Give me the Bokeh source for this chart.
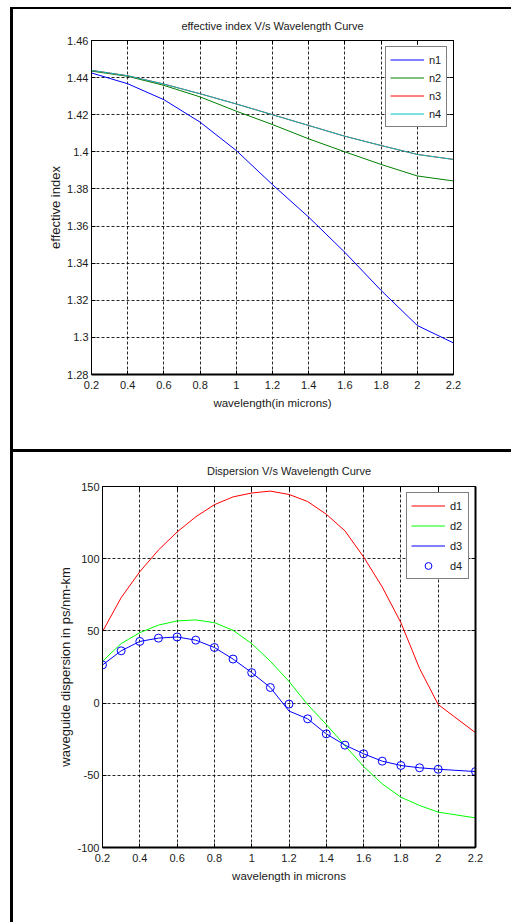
from bokeh.plotting import figure
from bokeh.models import Legend, LegendItem, FixedTicker, LinearAxis, Range1d
from bokeh.embed import file_html
from bokeh.resources import INLINE

FONT = "Liberation Sans"

# ---------------- data: effective index ----------------
wl1 = [0.2, 0.4, 0.6, 0.8, 1.0, 1.2, 1.4, 1.6, 1.8, 2.0, 2.2]
n1 = [1.4425, 1.4367, 1.4281, 1.4160, 1.4007, 1.3823, 1.3648, 1.3458, 1.3253, 1.3064, 1.2970]
n2 = [1.4435, 1.4407, 1.4358, 1.4296, 1.4219, 1.4147, 1.4070, 1.4000, 1.3932, 1.3870, 1.3843]
n3 = [1.4439, 1.4410, 1.4365, 1.4313, 1.4258, 1.4200, 1.4142, 1.4084, 1.4034, 1.3986, 1.3959]
n4 = [1.4439, 1.4410, 1.4365, 1.4313, 1.4258, 1.4200, 1.4142, 1.4084, 1.4034, 1.3986, 1.3959]

xticks = [0.2, 0.4, 0.6, 0.8, 1.0, 1.2, 1.4, 1.6, 1.8, 2.0, 2.2]
xtick_labels = ["0.2", "0.4", "0.6", "0.8", "1", "1.2", "1.4", "1.6", "1.8", "2", "2.2"]
yticks1 = [1.28, 1.30, 1.32, 1.34, 1.36, 1.38, 1.40, 1.42, 1.44, 1.46]
ytick_labels1 = ["1.28", "1.3", "1.32", "1.34", "1.36", "1.38", "1.4", "1.42", "1.44", "1.46"]

# ---------------- data: dispersion ----------------
wl2 = [0.2, 0.3, 0.4, 0.5, 0.6, 0.7, 0.8, 0.9, 1.0, 1.1, 1.2, 1.3, 1.4, 1.5, 1.6,
       1.7, 1.8, 1.9, 2.0, 2.2]
d1 = [49.5, 73.0, 91.0, 106.0, 118.5, 129.0, 137.4, 142.8, 145.5, 146.8, 144.5,
      139.6, 130.8, 119.3, 101.2, 80.4, 55.7, 24.0, -1.0, -20.5]
d2 = [29.0, 41.2, 48.8, 54.0, 56.9, 57.6, 55.7, 50.4, 41.2, 29.0, 15.0, -1.0,
      -14.8, -29.4, -43.9, -55.9, -65.2, -70.9, -75.5, -79.5]
d3 = [26.4, 36.2, 42.7, 45.0, 45.8, 43.6, 38.5, 30.5, 21.1, 10.8, -5.5, -10.9,
      -21.3, -29.1, -35.1, -40.2, -43.2, -44.8, -45.8, -47.4]
d4 = [26.4, 36.2, 42.7, 45.0, 45.8, 43.6, 38.5, 30.5, 21.1, 10.8, -0.7, -10.9,
      -21.3, -29.1, -35.1, -40.2, -43.2, -44.8, -45.8, -47.4]

yticks2 = [-100, -50, 0, 50, 100, 150]
ytick_labels2 = ["-100", "-50", "0", "50", "100", "150"]


def make_axes(p, xlabel, ylabel, yticks, ylabels, title_standoff):
    p.xaxis.ticker = FixedTicker(ticks=xticks, minor_ticks=[])
    p.yaxis.ticker = FixedTicker(ticks=yticks, minor_ticks=[])
    p.xaxis.major_label_overrides = dict(zip(xticks, xtick_labels))
    p.yaxis.major_label_overrides = dict(zip(yticks, ylabels))
    p.xaxis.axis_label = xlabel
    p.yaxis.axis_label = ylabel
    for ax in [p.xaxis[0], p.yaxis[0]]:
        ax.major_tick_in = 4
        ax.major_tick_out = 0
        ax.minor_tick_line_color = None
        ax.axis_line_color = "black"
        ax.major_tick_line_color = "black"
        ax.major_label_text_font = FONT
        ax.major_label_text_font_size = "11px"
        ax.major_label_text_color = "#1a1a1a"
        ax.axis_label_text_font = FONT
        ax.axis_label_text_font_style = "normal"
        ax.axis_label_text_color = "#1a1a1a"
    p.xaxis.axis_line_width = 2
    p.xaxis.major_label_standoff = 6
    p.xaxis.axis_label_standoff = 5
    p.xaxis.axis_label_text_font_size = "11.5px"
    p.yaxis.major_label_standoff = 3
    p.yaxis.axis_label_standoff = 1
    p.yaxis.axis_label_text_font_size = "13px"
    for loc, tks in (("above", xticks), ("right", yticks)):
        ax = LinearAxis(ticker=FixedTicker(ticks=tks, minor_ticks=[]),
                        major_label_text_font_size="1px", major_label_text_color=None,
                        major_label_standoff=0,
                        major_tick_in=4, major_tick_out=0, minor_tick_line_color=None,
                        axis_line_color="black", major_tick_line_color="black")
        p.add_layout(ax, loc)
    for g in [p.xgrid[0], p.ygrid[0]]:
        g.grid_line_color = "black"
        g.grid_line_alpha = 0.85
        g.grid_line_dash = "3 2"
        g.grid_line_width = 1
    p.outline_line_color = "black"
    p.outline_line_width = 1
    p.background_fill_color = "white"
    p.border_fill_color = None
    p.title.text_font = FONT
    p.title.text_font_style = "normal"
    p.title.text_font_size = "11px"
    p.title.text_color = "#1a1a1a"
    p.title.align = "center"
    p.title.standoff = title_standoff


def legend(items, entry_h, spacing, label_w):
    return Legend(items=items, location="top_right", margin=6, padding=4,
                  spacing=spacing, label_height=entry_h, glyph_height=entry_h,
                  glyph_width=34, label_width=label_w, label_standoff=5,
                  label_text_font=FONT, label_text_font_size="11px",
                  label_text_color="#1a1a1a", border_line_color="black",
                  border_line_width=1, background_fill_color="white",
                  background_fill_alpha=1.0)


# CSS backgrounds that draw the surrounding table rules (black lines)
css1 = {
    "background-color": "white",
    "background-image": "linear-gradient(black, black), linear-gradient(black, black), "
                        "linear-gradient(black, black)",
    "background-size": "3px 100%, 100% 2px, 100% 1px",
    "background-position": "10px 7px, 10px 7px, 10px 100%",
    "background-repeat": "no-repeat",
}
css2 = {
    "background-color": "white",
    "background-image": "linear-gradient(black, black), linear-gradient(black, black)",
    "background-size": "3px 100%, 100% 2px",
    "background-position": "10px 0px, 10px 0px",
    "background-repeat": "no-repeat",
}

# ---------------- figure 1 ----------------
p1 = figure(width=511, height=450, output_backend="svg", toolbar_location=None,
            x_range=Range1d(0.2, 2.2), y_range=Range1d(1.28, 1.46),
            min_border_left=91, min_border_right=58, min_border_top=40,
            min_border_bottom=76, title="effective index V/s Wavelength Curve",
            styles=css1)
make_axes(p1, "wavelength(in microns)", "effective index", yticks1, ytick_labels1, 17)

r1 = p1.line(wl1, n1, line_color="#0000ff", line_width=1)
r2 = p1.line(wl1, n2, line_color="#008000", line_width=1)
r3 = p1.line(wl1, n3, line_color="#ff0000", line_width=1)
r4 = p1.line(wl1, n4, line_color="#00bfbf", line_width=1)

p1.add_layout(legend([LegendItem(label="n1", renderers=[r1]),
                      LegendItem(label="n2", renderers=[r2]),
                      LegendItem(label="n3", renderers=[r3]),
                      LegendItem(label="n4", renderers=[r4])], 17, 1, 13))

# ---------------- figure 2 ----------------
p2 = figure(width=511, height=472, output_backend="svg", toolbar_location=None,
            x_range=Range1d(0.2, 2.2), y_range=Range1d(-100, 150),
            min_border_left=102, min_border_right=36, min_border_top=36,
            min_border_bottom=75, title="Dispersion V/s Wavelength Curve",
            styles=css2)
make_axes(p2, "wavelength in microns", "waveguide dispersion in ps/nm-km",
          yticks2, ytick_labels2, 19)
p2.yaxis[1].axis_line_width = 2

s1 = p2.line(wl2, d1, line_color="#ff0000", line_width=1)
s2 = p2.line(wl2, d2, line_color="#00ff00", line_width=1)
s3 = p2.line(wl2, d3, line_color="#0000ff", line_width=1)
s4 = p2.scatter(wl2, d4, marker="circle", size=8, fill_color=None,
                line_color="#0000ff", line_width=1)

p2.add_layout(legend([LegendItem(label="d1", renderers=[s1]),
                      LegendItem(label="d2", renderers=[s2]),
                      LegendItem(label="d3", renderers=[s3]),
                      LegendItem(label="d4", renderers=[s4])], 17, 3, 14))

open("out.html", "w").write(file_html([p1, p2], INLINE))
